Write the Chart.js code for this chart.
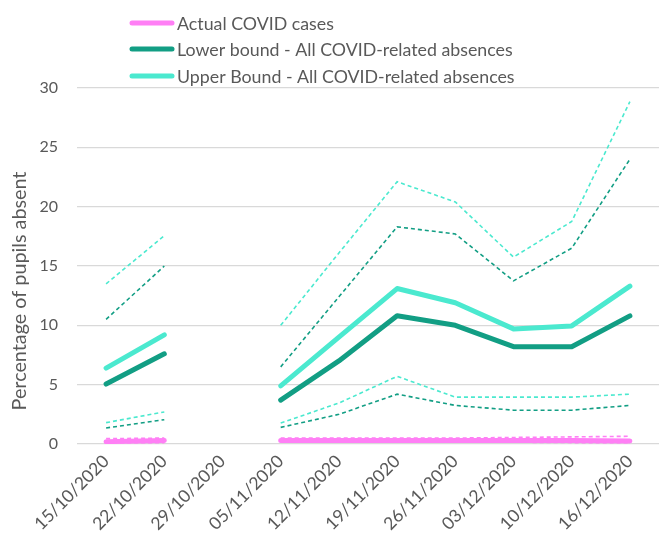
<!DOCTYPE html>
<html>
<head>
<meta charset="utf-8">
<script src="https://cdn.jsdelivr.net/npm/chart.js@4.4.1/dist/chart.umd.min.js"></script>
<style>
html,body{margin:0;padding:0;background:#fff;}
#wrap{width:659px;height:534px;position:relative;}
</style>
</head>
<body>
<div id="wrap"><canvas id="c" width="659" height="534"></canvas></div>
<script>
const categories = ['15/10/2020','22/10/2020','29/10/2020','05/11/2020','12/11/2020','19/11/2020','26/11/2020','03/12/2020','10/12/2020','16/12/2020'];
const yTicks = [0,5,10,15,20,25,30];
const actualCases     = [0.2, 0.3, null, 0.3, 0.3, 0.3, 0.3, 0.3, 0.3, 0.25];
const actualCasesHigh = [0.45, 0.5, null, 0.5, 0.5, 0.5, 0.5, 0.55, 0.6, 0.65];
const actualCasesLow  = [0.1, 0.12, null, 0.15, 0.15, 0.15, 0.15, 0.15, 0.12, 0.1];
const lowerBound      = [5.05, 7.6, null, 3.7, 7.0, 10.8, 10.0, 8.2, 8.2, 10.8];
const lowerBoundHigh  = [10.5, 15.0, null, 6.5, 12.4, 18.3, 17.7, 13.75, 16.5, 24.0];
const lowerBoundLow   = [1.35, 2.05, null, 1.4, 2.5, 4.2, 3.25, 2.85, 2.85, 3.25];
const upperBound      = [6.4, 9.2, null, 4.9, 9.0, 13.1, 11.9, 9.7, 9.95, 13.3];
const upperBoundHigh  = [13.5, 17.55, null, 10.0, 16.1, 22.1, 20.4, 15.75, 18.75, 28.85];
const upperBoundLow   = [1.8, 2.7, null, 1.77, 3.45, 5.7, 3.95, 3.95, 3.95, 4.2];

const PINK = '#ff7ff5';
const DARK = '#129e84';
const CYAN = '#4be9cf';
const TEXT = '#595959';
const FONT = 'Lato, "Open Sans", sans-serif';

function solid(label, data, color){
  return {label, data, borderColor: color, backgroundColor: color, borderWidth: 5,
    borderCapStyle:'round', borderJoinStyle:'round', pointRadius:0, spanGaps:false, tension:0, showInLegend:true};
}
function dashed(label, data, color){
  return {label, data, borderColor: color, backgroundColor: color, borderWidth: 1.6,
    borderDash:[4,3], pointRadius:0, spanGaps:false, tension:0, showInLegend:false};
}

const legendPlugin = {
  id:'customLegend',
  afterDraw(chart){
    const ctx = chart.ctx;
    const items = chart.data.datasets.filter(d => d.showInLegend);
    const ys = [23, 49, 76];
    ctx.save();
    items.forEach((d, i) => {
      const y = ys[i];
      ctx.strokeStyle = d.borderColor;
      ctx.lineWidth = 5;
      ctx.lineCap = 'round';
      ctx.beginPath(); ctx.moveTo(132, y); ctx.lineTo(172, y); ctx.stroke();
      ctx.fillStyle = TEXT;
      ctx.font = '17.8px ' + FONT;
      ctx.textBaseline = 'middle';
      ctx.textAlign = 'left';
      ctx.fillText(d.label, 177, y + 1);
    });
    // y axis title
    ctx.translate(20, 291);
    ctx.rotate(-Math.PI/2);
    ctx.font = '19.8px ' + FONT;
    ctx.textAlign = 'center';
    ctx.textBaseline = 'middle';
    ctx.fillStyle = TEXT;
    ctx.fillText('Percentage of pupils absent', 0, 0);
    ctx.restore();
  }
};

new Chart(document.getElementById('c'), {
  type:'line',
  data:{
    labels: categories,
    datasets:[
      solid('Actual COVID cases', actualCases, PINK),
      solid('Lower bound - All COVID-related absences', lowerBound, DARK),
      solid('Upper Bound - All COVID-related absences', upperBound, CYAN),
      dashed('Actual COVID cases (high)', actualCasesHigh, PINK),
      dashed('Actual COVID cases (low)', actualCasesLow, PINK),
      dashed('Lower bound (high)', lowerBoundHigh, DARK),
      dashed('Lower bound (low)', lowerBoundLow, DARK),
      dashed('Upper Bound (high)', upperBoundHigh, CYAN),
      dashed('Upper Bound (low)', upperBoundLow, CYAN)
    ]
  },
  options:{
    responsive:false,
    animation:false,
    layout:{padding:{top:88, right:0, bottom:0, left:0}},
    plugins:{legend:{display:false}, tooltip:{enabled:false}},
    scales:{
      x:{
        offset:true,
        grid:{display:false, drawTicks:false},
        border:{display:false},
        ticks:{color:TEXT, font:{family:FONT, size:17.5}, minRotation:45, maxRotation:45, autoSkip:false, padding:7},
        afterFit(s){ s.height = 90; }
      },
      y:{
        min:0, max:30,
        afterBuildTicks(s){ s.ticks = yTicks.map(v => ({value:v})); },
        grid:{color:'#d9d9d9', lineWidth:1.3, drawTicks:false},
        border:{display:false},
        ticks:{color:TEXT, font:{family:FONT, size:16}, padding:19},
        afterFit(s){ s.width = 77; }
      }
    }
  },
  plugins:[legendPlugin]
});
</script>
</body>
</html>
